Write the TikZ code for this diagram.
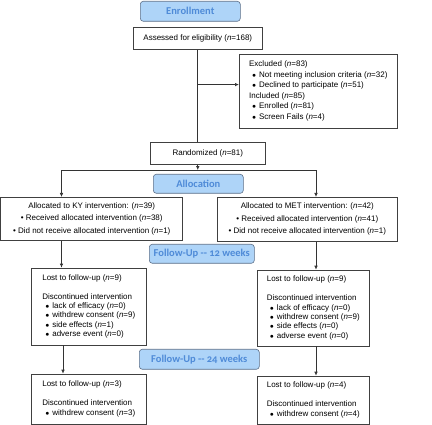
\documentclass[tikz,border=0pt]{standalone}
\usepackage{fontspec}
\setmainfont{Liberation Sans}
\newfontfamily\headfont[Numbers=OldStyle]{Carlito}
\usepackage{xcolor}
\usepackage{tikz}
\usetikzlibrary{positioning, calc, arrows.meta}

\definecolor{stagefill}{HTML}{AED4F8}
\definecolor{stageline}{HTML}{5C6F88}
\definecolor{stagetext}{HTML}{4F8BD8}

\newcommand{\nn}[1]{(\textit{n}=#1)}
\newcommand{\bl}{\makebox[10pt][c]{\scriptsize$\bullet$}}

\begin{document}
\begin{tikzpicture}[x=1pt, y=-1pt,
    font=\fontsize{8}{10.6}\selectfont,
    stagebox/.style={draw=stageline, fill=stagefill, rounded corners=3pt, line width=0.6pt,
      anchor=north west, inner sep=0pt, align=center,
      font=\headfont\bfseries\fontsize{10.5}{12}\selectfont, text=stagetext},
    infobox/.style={draw=black!75, line width=0.6pt, anchor=north west, inner sep=0pt},
    flow/.style={draw=black!80, line width=0.7pt},
    tip/.style={-{Latex[length=4pt,width=3.5pt]}}]
  \useasboundingbox (0,0) rectangle (432,425);

  % Enrollment
  \node[stagebox, minimum width=100pt, minimum height=20pt] (enrol) at (140,1) {Enrollment};
  \node[infobox, minimum width=129pt, minimum height=22pt] (assess) at (133,27)
    {Assessed for eligibility \nn{168}};
  \node[infobox, minimum width=158pt, minimum height=74pt, align=left, inner xsep=5pt, anchor=west]
    (excl) at (239,91)
    {Excluded \nn{83}\\
     \bl Not meeting inclusion criteria \nn{32}\\
     \bl Declined to participate \nn{51}\\
     Included \nn{85}\\
     \bl Enrolled \nn{81}\\
     \bl Screen Fails \nn{4}};
  \node[infobox, minimum width=115pt, minimum height=22pt] (rand) at (150,142)
    {Randomized \nn{81}};

  % Allocation
  \node[stagebox, minimum width=90pt, minimum height=19pt] (alloc) at (153,174) {Allocation};
  \node[infobox, minimum width=182pt, minimum height=43pt, align=center,
    font=\fontsize{8}{12.5}\selectfont] (ky) at (0.4,197)
    {Allocated to KY intervention: \nn{39}\\
     \textbullet\ Received allocated intervention \nn{38}\\
     \textbullet\ Did not receive allocated intervention \nn{1}};
  \node[infobox, minimum width=180pt, minimum height=44pt, align=center,
    font=\fontsize{8}{12.5}\selectfont] (met) at (217,197)
    {Allocated to MET intervention: \nn{42}\\
     \textbullet\ Received allocated intervention \nn{41}\\
     \textbullet\ Did not receive allocated intervention \nn{1}};

  % Follow-up 12 weeks
  \node[stagebox, minimum width=105pt, minimum height=19pt] (fu12) at (149,244)
    {Follow-Up -- 12 weeks};
  \node[infobox, minimum width=115pt, minimum height=77pt, align=left, inner xsep=6pt,
    font=\fontsize{8}{9.4}\selectfont, anchor=west] (lostA) at (31,306.5)
    {Lost to follow-up \nn{9}\\[9.4pt]
     Discontinued intervention\\
     \bl lack of efficacy \nn{0}\\
     \bl withdrew consent \nn{9}\\
     \bl side effects \nn{1}\\
     \bl adverse event \nn{0}};
  \node[infobox, minimum width=112pt, minimum height=76pt, align=left, inner xsep=6pt,
    font=\fontsize{8}{9.4}\selectfont, anchor=west] (lostB) at (257,308)
    {Lost to follow-up \nn{9}\\[9.4pt]
     Discontinued intervention\\
     \bl lack of efficacy \nn{0}\\
     \bl withdrew consent \nn{9}\\
     \bl side effects \nn{0}\\
     \bl adverse event \nn{0}};

  % Follow-up 24 weeks
  \node[stagebox, minimum width=120pt, minimum height=20pt] (fu24) at (139,349)
    {Follow-Up -- 24 weeks};
  \node[infobox, minimum width=115pt, minimum height=50pt, align=left, inner xsep=6pt,
    font=\fontsize{8}{9.4}\selectfont, anchor=west] (dropA) at (31,399)
    {Lost to follow-up \nn{3}\\[9.4pt]
     Discontinued intervention\\
     \bl withdrew consent \nn{3}};
  \node[infobox, minimum width=112pt, minimum height=48pt, align=left, inner xsep=6pt,
    font=\fontsize{8}{9.4}\selectfont, anchor=west] (dropB) at (257,400)
    {Lost to follow-up \nn{4}\\[9.4pt]
     Discontinued intervention\\
     \bl withdrew consent \nn{4}};

  % Connectors
  \coordinate (lcol) at (61.5,0);
  \coordinate (rcol) at (316,0);
  \coordinate (split) at ($(assess.south)+(0,35)$);
  \coordinate (fork) at ($(assess.south |- rand.south)+(0,5.5)$);
  \draw[flow] (assess.south) -- (assess.south |- rand.north);
  \draw[flow, tip] (split) -- (split -| excl.west);
  \draw[flow, tip] (assess.south |- rand.south) -- (fork);
  \draw[flow] (fork -| lcol) -- (fork -| rcol);
  \draw[flow, tip] (fork -| lcol) -- (ky.north -| lcol);
  \draw[flow, tip] (fork -| rcol) -- (met.north -| rcol);
  \draw[flow, tip] (ky.south -| lcol) -- (lostA.north -| lcol);
  \draw[flow, tip] (met.south -| rcol) -- (lostB.north -| rcol);
  \draw[flow, tip] ($(lostA.south -| lcol)+(1.5,0)$) -- ($(dropA.north -| lcol)+(1.5,0)$);
  \draw[flow, tip] (lostB.south -| rcol) -- (dropB.north -| rcol);
\end{tikzpicture}
\end{document}
